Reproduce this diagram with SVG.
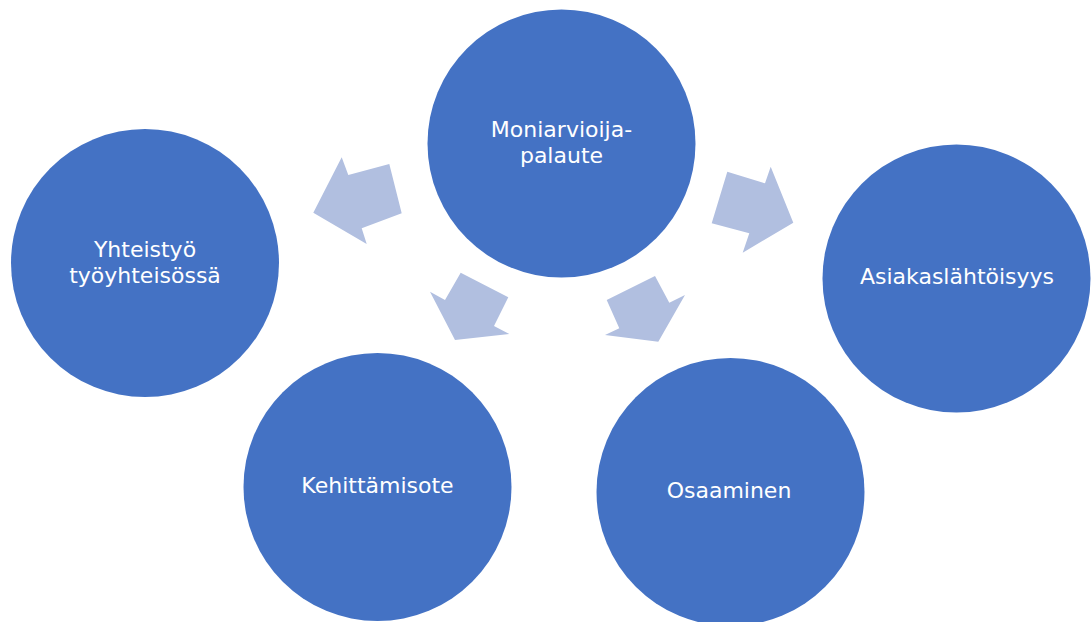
<svg xmlns="http://www.w3.org/2000/svg" width="1091" height="622" viewBox="0 0 1091 622">
<style>
.node{fill:#4472C4;}
.arrow{fill:#B1BFE0;}
.label{fill:#FFFFFF;font-family:"DejaVu Sans","Verdana",sans-serif;font-size:22px;text-anchor:middle;}
</style>
<rect width="1091" height="622" fill="#FFFFFF"/>
<g id="connectors">
<polygon class="arrow" points="313.3,212.7 341.7,157.3 348.3,175 389.3,164 401.7,213.3 361.7,228.3 366.7,244"/>
<polygon class="arrow" points="727.3,171.7 765,183.3 770.7,166.7 793.3,222.7 742.7,252.7 749.3,233.3 711.7,223.3"/>
<polygon class="arrow" points="460.7,272.7 508.3,297.3 494,326 509.3,334 455,340 430,291.7 445,300"/>
<polygon class="arrow" points="655,276 606.7,300 619.3,328.3 605,335 658.3,341.7 685,295 669.3,302.7"/>
</g>
<g id="node-moniarvioija">
<circle class="node" cx="561.5" cy="143.5" r="134"/>
<text class="label" x="561.5" y="137">Moniarvioija-</text>
<text class="label" x="561.5" y="163">palaute</text>
</g>
<g id="node-yhteistyo">
<circle class="node" cx="145" cy="263" r="134"/>
<text class="label" x="145" y="257">Yhteistyö</text>
<text class="label" x="145" y="283">työyhteisössä</text>
</g>
<g id="node-asiakaslahtoisyys">
<circle class="node" cx="956.5" cy="278.5" r="134"/>
<text class="label" x="957" y="284">Asiakaslähtöisyys</text>
</g>
<g id="node-kehittamisote">
<circle class="node" cx="377.5" cy="487" r="134"/>
<text class="label" x="377.5" y="493">Kehittämisote</text>
</g>
<g id="node-osaaminen">
<circle class="node" cx="730.5" cy="492" r="134"/>
<text class="label" x="729" y="498">Osaaminen</text>
</g>
</svg>
